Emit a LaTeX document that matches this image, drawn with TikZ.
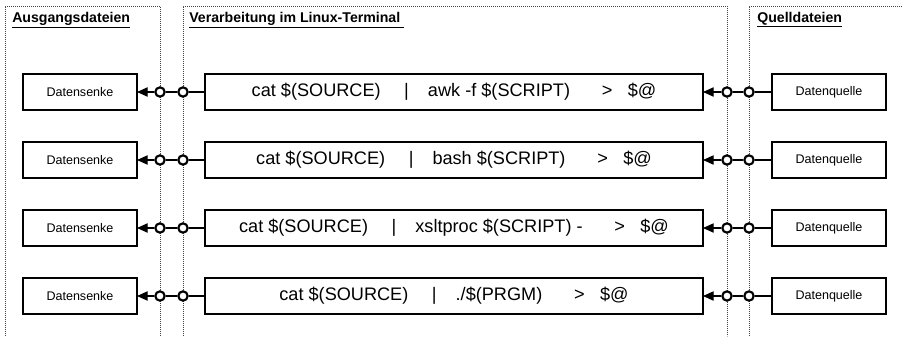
\documentclass[tikz,border=0pt]{standalone}
\usepackage{fontspec}
\setmainfont{Liberation Sans}
\usepackage{tikz}
\usetikzlibrary{arrows.meta}
\usetikzlibrary{positioning, calc}
\tikzset{
    filebox/.style = {draw=black, line width=1.5pt, outer sep=0pt,
        minimum width=85.5pt, minimum height=27pt, inner sep=0pt,
        font=\fontsize{9.4}{11}\selectfont},
    cmdbox/.style = {filebox, minimum width=373.5pt,
        font=\fontsize{13.6}{16}\selectfont},
    port/.style = {circle, draw=black, line width=1.6pt, fill=white,
        minimum size=7pt, inner sep=0pt},
    wire/.style = {draw=black, line width=0.8pt},
    panel/.style = {draw=black!75, line width=0.6pt,
        dash pattern=on 0.7pt off 0.8pt},
    title/.style = {anchor=base west, inner sep=0pt,
        font=\fontsize{10.6}{12}\selectfont\bfseries},
}
\newcommand{\cmdtext}[1]{cat \$(SOURCE)\hspace{1.3em}|\hspace{1.05em}#1\hspace{1.75em}>\hspace{0.85em}\$@}

\begin{document}
\begin{tikzpicture}[x=0.75pt, y=-0.75pt, >={Triangle[length=8pt,width=7pt]}]
        \useasboundingbox (0,0) rectangle (902,336);
        % panels
        \draw[panel] (5,336) -- (5,6) -- (160,6) -- (160,336);
        \draw[panel] (183,336) -- (183,6) -- (727,6) -- (727,336);
        \draw[panel] (749,336) -- (749,6) -- (902,6);
        \node[title] (t_out) at (12,22) {\underline{Ausgangsdateien}};
        \node[title] (t_proc) at (189,22) {\underline{Verarbeitung im Linux-Terminal\ }};
        \node[title] (t_in) at (757,22) {\underline{Quelldateien}};
        % row 1
        \node (cmd1) [cmdbox] at (454,92) {\cmdtext{awk -f \$(SCRIPT)}};
        \node (sink1) [filebox, left=51pt of cmd1] {Datensenke};
        \node (src1) [filebox, right=51.75pt of cmd1] {Datenquelle};
        \node (p1a) [port] at (160,92) {};
        \node (p1b) [port] at (183,92) {};
        \node (p1c) [port] at (727,92) {};
        \node (p1d) [port] at (749,92) {};
        \draw[wire, ->] (cmd1) -- (p1b) -- (p1a) -- (sink1);
        \draw[wire, ->] (src1) -- (p1d) -- (p1c) -- (cmd1);
        % row 2
        \node (cmd2) [cmdbox] at (454,160) {\cmdtext{bash \$(SCRIPT)}};
        \node (sink2) [filebox, left=51pt of cmd2] {Datensenke};
        \node (src2) [filebox, right=51.75pt of cmd2] {Datenquelle};
        \node (p2a) [port] at (160,160) {};
        \node (p2b) [port] at (183,160) {};
        \node (p2c) [port] at (727,160) {};
        \node (p2d) [port] at (749,160) {};
        \draw[wire, ->] (cmd2) -- (p2b) -- (p2a) -- (sink2);
        \draw[wire, ->] (src2) -- (p2d) -- (p2c) -- (cmd2);
        % row 3
        \node (cmd3) [cmdbox] at (454,228) {\cmdtext{xsltproc \$(SCRIPT) -}};
        \node (sink3) [filebox, left=51pt of cmd3] {Datensenke};
        \node (src3) [filebox, right=51.75pt of cmd3] {Datenquelle};
        \node (p3a) [port] at (160,228) {};
        \node (p3b) [port] at (183,228) {};
        \node (p3c) [port] at (727,228) {};
        \node (p3d) [port] at (749,228) {};
        \draw[wire, ->] (cmd3) -- (p3b) -- (p3a) -- (sink3);
        \draw[wire, ->] (src3) -- (p3d) -- (p3c) -- (cmd3);
        % row 4
        \node (cmd4) [cmdbox] at (454,296) {\cmdtext{./\$(PRGM)}};
        \node (sink4) [filebox, left=51pt of cmd4] {Datensenke};
        \node (src4) [filebox, right=51.75pt of cmd4] {Datenquelle};
        \node (p4a) [port] at (160,296) {};
        \node (p4b) [port] at (183,296) {};
        \node (p4c) [port] at (727,296) {};
        \node (p4d) [port] at (749,296) {};
        \draw[wire, ->] (cmd4) -- (p4b) -- (p4a) -- (sink4);
        \draw[wire, ->] (src4) -- (p4d) -- (p4c) -- (cmd4);
\end{tikzpicture}
\end{document}
